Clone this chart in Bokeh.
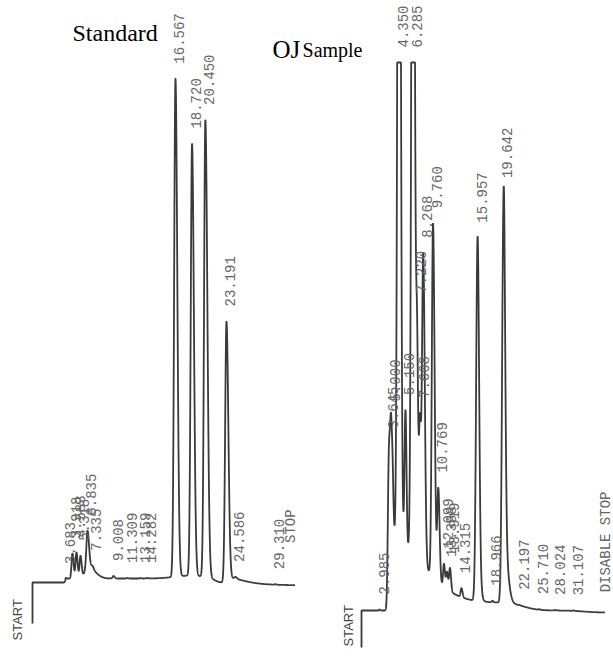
import numpy as np
from bokeh.plotting import figure
from bokeh.models import Range1d
from bokeh.core.properties import value
from bokeh.embed import file_html
from bokeh.resources import INLINE

# ---------------- Standard chromatogram (left) ----------------
std_peak_t = [2.29, 3.19, 3.71, 4.23, 5.14, 5.79, 8.52, 10.34, 12.03, 12.93,
              16.567, 18.720, 20.450, 23.191, 24.36, 29.55]
std_peak_h = [1.5, 25, 26, 22, 36, 3, 2.5, 0.5, 0.5, 0.5,
              498, 432, 457, 257, 2, 0.5]
std_peak_sl = [0.08, 0.12, 0.12, 0.12, 0.14, 0.12, 0.12, 0.1, 0.1, 0.1,
               0.17, 0.17, 0.17, 0.17, 0.15, 0.1]
std_peak_sr = [0.08, 0.15, 0.15, 0.15, 0.2, 0.15, 0.15, 0.1, 0.1, 0.1,
               0.24, 0.24, 0.26, 0.24, 0.2, 0.1]
std_labels = ["3.683", "3.918", "4.583", "5.318", "6.835", "7.335", "9.008",
              "11.309", "13.159", "14.282", "16.567", "18.720", "20.450",
              "23.191", "24.586", "29.310"]
# broad humps / tails
std_hump_t = [5.2, 18.5, 23.3]
std_hump_h = [12, 3, 5]
std_hump_sl = [0.4, 2.0, 0.2]
std_hump_sr = [0.9, 2.0, 2.0]
# baseline shifts
std_step_t = [2.29, 21.6, 27.0]
std_step_h = [4, -4, -3]
std_step_w = [0.03, 0.3, 2.5]
std_start_t, std_pen_zero, std_end_t = -2.0, -41.0, 32.1
std_stop_t = 31.1

# ---------------- OJ sample chromatogram (right) ----------------
oj_peak_t = [2.07, 3.41, 3.74, 4.83, 5.75, 6.81, 7.38, 7.80, 8.26, 9.65, 10.40,
             11.20, 11.63, 12.05, 13.68, 15.95, 18.07, 19.63, 21.9, 24.73, 27.0, 29.55]
oj_peak_h = [1, 147, 135, 1100, 137, 1100, 209, 136, 311, 353, 93,
             23, 17, 23, 9, 350, 1.5, 383, 0.5, 0.5, 0.5, 0.5]
oj_peak_sl = [0.08, 0.15, 0.15, 0.2, 0.14, 0.2, 0.15, 0.15, 0.17, 0.17, 0.15,
              0.12, 0.12, 0.12, 0.12, 0.2, 0.1, 0.2, 0.1, 0.1, 0.1, 0.1]
oj_peak_sr = [0.08, 0.2, 0.2, 0.22, 0.14, 0.22, 0.15, 0.15, 0.22, 0.22, 0.18,
              0.15, 0.15, 0.15, 0.15, 0.22, 0.1, 0.22, 0.1, 0.1, 0.1, 0.1]
oj_labels = ["2.985", "3.645", "5.000", "4.350", "5.150", "6.285", "7.220", "7.608",
             "8.268", "9.760", "10.769", "12.099", "13.388", "13.919", "14.315",
             "15.957", "18.966", "19.642", "22.197", "25.710", "28.024", "31.107"]
oj_hump_t = [4.0, 16.05, 19.75]
oj_hump_h = [60, 22, 55]
oj_hump_sl = [0.15, 0.1, 0.1]
oj_hump_sr = [4.4, 0.35, 0.5]
oj_step_t = [3.15, 22.5, 31.0]
oj_step_h = [8, -8, -2]
oj_step_w = [0.05, 1.0, 1.0]
oj_start_t, oj_pen_zero, oj_end_t = -0.48, -37.0, 34.0
oj_stop_t = 33.65
oj_paper_top = 548  # recorder full scale

W, H = 613, 656
std_xr = Range1d(-6.156, 73.455)
std_yr = Range1d(-74, 582)
oj_xr = Range1d(-51.615, 35.213)
oj_yr = Range1d(-46, 610)


def model(t, pt, ph, psl, psr, ht, hh, hsl, hsr, st, sh, sw):
    y = np.zeros_like(t)
    for t0, h, sl, sr in list(zip(pt, ph, psl, psr)) + list(zip(ht, hh, hsl, hsr)):
        s = np.where(t < t0, sl, sr)
        y += h * np.exp(-0.5 * ((t - t0) / s) ** 2)
    for t0, dh, w in zip(st, sh, sw):
        y += dh * 0.5 * (1 + np.tanh((t - t0) / (2 * w)))
    return y


p = figure(width=W, height=H, x_range=std_xr, y_range=std_yr,
           output_backend="svg", toolbar_location=None, min_border=0,
           x_axis_location=None, y_axis_location=None)
p.extra_x_ranges = {"oj": oj_xr}
p.extra_y_ranges = {"oj": oj_yr}
p.grid.visible = False
p.outline_line_color = None
p.background_fill_color = "white"
p.border_fill_color = "white"

trace_color = "#3a3a3a"
label_color = "#666666"
label_font = value("Liberation Mono")


def draw_chart(args, labels, start_t, pen_zero, end_t, xr, yr, rng, clip=None,
               stop_text=None, stop_t=None, stop_lift=15):
    pt = args[0]
    ppx = W / (xr.end - xr.start)
    ppy = H / (yr.end - yr.start)
    grid = np.arange(start_t, end_t, 0.005)
    ys = model(grid, *args)
    if clip is not None:
        ys = np.minimum(ys, clip)
    xs = np.concatenate([[start_t], grid])
    ys = np.concatenate([[pen_zero], ys])
    kw = {} if rng is None else dict(x_range_name=rng, y_range_name=rng)
    p.line(xs, ys, line_color=trace_color, line_width=1.8, **kw)

    apex = model(np.array(pt, dtype=float), *args)
    if clip is not None:
        apex = np.minimum(apex, clip)
    lx = np.array(pt) + 4 / ppx
    ly = apex + 15 / ppy
    p.text(lx, ly, text=labels, angle=np.pi / 2, text_align="left",
           text_baseline="middle", text_font=label_font, text_font_size="14px",
           text_color=label_color, **kw)
    if stop_text:
        sy = model(np.array([stop_t]), *args)[0] + stop_lift / ppy
        p.text([stop_t + 4 / ppx], [sy], text=[stop_text], angle=np.pi / 2,
               text_align="left", text_baseline="middle", text_font=label_font,
               text_font_size="14px", text_color=label_color, **kw)
    return ppx, ppy


std_args = (std_peak_t, std_peak_h, std_peak_sl, std_peak_sr,
            std_hump_t, std_hump_h, std_hump_sl, std_hump_sr,
            std_step_t, std_step_h, std_step_w)
oj_args = (oj_peak_t, oj_peak_h, oj_peak_sl, oj_peak_sr,
           oj_hump_t, oj_hump_h, oj_hump_sl, oj_hump_sr,
           oj_step_t, oj_step_h, oj_step_w)

sppx, sppy = draw_chart(std_args, std_labels, std_start_t, std_pen_zero, std_end_t,
                        std_xr, std_yr, None, stop_text="STOP", stop_t=std_stop_t,
                        stop_lift=42)
oppx, oppy = draw_chart(oj_args, oj_labels, oj_start_t, oj_pen_zero, oj_end_t,
                        oj_xr, oj_yr, "oj", clip=oj_paper_top,
                        stop_text="DISABLE STOP", stop_t=oj_stop_t, stop_lift=20)

# START marks
start_font = value("Liberation Sans")
p.text([std_start_t - 15 / sppx], [std_pen_zero - 17 / sppy], text=["START"],
       angle=np.pi / 2, text_align="left", text_baseline="middle",
       text_font=start_font, text_font_size="13px", text_color="#444444")
p.text([oj_start_t - 13 / oppx], [oj_pen_zero + 1 / oppy], text=["START"],
       angle=np.pi / 2, text_align="left", text_baseline="middle",
       text_font=start_font, text_font_size="13px", text_color="#444444",
       x_range_name="oj", y_range_name="oj")

# Titles (placed relative to the chart frames)
serif = value("Liberation Serif")
p.text([std_start_t + 40 / sppx], [std_yr.end - 32 / sppy], text=["Standard"],
       text_align="left", text_baseline="alphabetic", text_font=serif,
       text_font_size="24px", text_color="black")
p.text([oj_start_t - 89 / oppx], [oj_yr.end - 49 / oppy], text=["OJ"],
       text_align="left", text_baseline="alphabetic", text_font=serif,
       text_font_size="25px", text_color="black",
       x_range_name="oj", y_range_name="oj")
p.text([oj_start_t - 59 / oppx], [oj_yr.end - 49 / oppy], text=["Sample"],
       text_align="left", text_baseline="alphabetic", text_font=serif,
       text_font_size="20px", text_color="black",
       x_range_name="oj", y_range_name="oj")

open("out.html", "w").write(file_html(p, INLINE))
